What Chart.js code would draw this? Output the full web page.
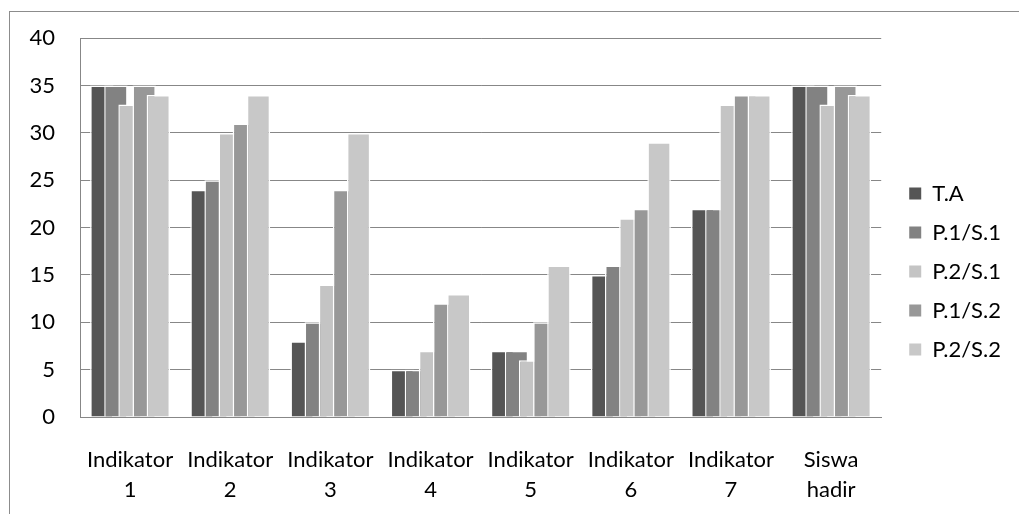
<!DOCTYPE html>
<html>
<head>
<meta charset="utf-8">
<title>Indikator</title>
<script src="https://cdn.jsdelivr.net/npm/chart.js@4.4.0/dist/chart.umd.min.js"></script>
<style>
  html, body { margin: 0; padding: 0; background: #ffffff; overflow: hidden; }
  #wrap { position: relative; width: 1019px; height: 514px; overflow: hidden; }
  #frame { position: absolute; left: 9px; top: 11px; width: 1100px; height: 600px;
           border: 1px solid #8c8c8c; box-sizing: border-box; }
  #chart { position: absolute; left: 0; top: 0; }
</style>
</head>
<body>
<div id="wrap">
  <div id="frame"></div>
  <canvas id="chart" width="1019" height="514"></canvas>
</div>
<script>
// Categories (two-line labels) and series
const categories = [
  ['Indikator', '1'], ['Indikator', '2'], ['Indikator', '3'], ['Indikator', '4'],
  ['Indikator', '5'], ['Indikator', '6'], ['Indikator', '7'], ['Siswa', 'hadir']
];
const seriesNames = ['T.A', 'P.1/S.1', 'P.2/S.1', 'P.1/S.2', 'P.2/S.2'];
const taValues   = [35, 24,  8,  5,  7, 15, 22, 35];
const p1s1Values = [35, 25, 10,  5,  7, 16, 22, 35];
const p2s1Values = [33, 30, 14,  7,  6, 21, 33, 33];
const p1s2Values = [35, 31, 24, 12, 10, 22, 34, 35];
const p2s2Values = [34, 34, 30, 13, 16, 29, 34, 34];
const yTicks = [0, 5, 10, 15, 20, 25, 30, 35, 40];

const seriesValues = [taValues, p1s1Values, p2s1Values, p1s2Values, p2s2Values];
const seriesColors = ['#555555', '#828282', '#c4c4c4', '#989898', '#c8c8c8'];

const FONT = 'Lato, "Open Sans", sans-serif';
const GRID = '#878787';
const TEXT = '#000000';

// Later series are painted over earlier ones, so bars overlap left-to-right.
const seriesOrder = {
  id: 'seriesOrder',
  beforeDatasetsDraw(chart) {
    const { ctx, chartArea } = chart;
    const metas = chart.getSortedVisibleDatasetMetas().slice().sort((a, b) => a.index - b.index);
    ctx.save();
    ctx.beginPath();
    ctx.rect(chartArea.left, chartArea.top - 2, chartArea.width, chartArea.height + 2);
    ctx.clip();
    metas.forEach(m => m.controller.draw());
    ctx.restore();
    return false;
  }
};

// Nudge the legend a little away from the plot
const legendShift = {
  id: 'legendShift',
  afterLayout(chart) {
    const lg = chart.legend;
    if (lg) { lg.left += 11; lg.right += 11; }
  }
};

new Chart(document.getElementById('chart'), {
  type: 'bar',
  data: {
    labels: categories,
    datasets: seriesNames.map((name, i) => ({
      label: name,
      data: seriesValues[i],
      backgroundColor: seriesColors[i],
      borderColor: '#ffffff',
      borderWidth: { top: 1.5, left: 1.5, right: 1.5, bottom: 0 },
      borderSkipped: 'start',
      categoryPercentage: 0.705,
      barPercentage: 1.66
    }))
  },
  options: {
    responsive: false,
    devicePixelRatio: 1,
    animation: false,
    layout: { padding: { top: 37, right: 19, bottom: 8, left: 0 } },
    scales: {
      x: {
        grid: { display: false, drawTicks: false },
        border: { display: true, color: GRID, width: 1 },
        ticks: {
          color: TEXT,
          padding: 28,
          maxRotation: 0,
          autoSkip: false,
          font: { family: FONT, size: 22, lineHeight: 1.36 }
        },
        afterFit(scale) { scale.height = 89; }
      },
      y: {
        min: 0,
        max: 40,
        afterBuildTicks(scale) { scale.ticks = yTicks.map(v => ({ value: v })); },
        grid: { color: GRID, lineWidth: 1, drawTicks: false },
        border: { display: true, color: GRID, width: 1 },
        ticks: {
          color: TEXT,
          padding: 25,
          font: { family: FONT, size: 22 }
        },
        afterFit(scale) { scale.width = 80; }
      }
    },
    plugins: {
      tooltip: { enabled: false },
      legend: {
        position: 'right',
        align: 'center',
        labels: {
          color: TEXT,
          boxWidth: 12,
          boxHeight: 12,
          padding: 17,
          font: { family: FONT, size: 22 },
          generateLabels(chart) {
            const items = Chart.defaults.plugins.legend.labels.generateLabels(chart);
            items.forEach(it => { it.lineWidth = 0; it.strokeStyle = it.fillStyle; });
            return items;
          }
        }
      }
    }
  },
  plugins: [seriesOrder, legendShift]
});
</script>
</body>
</html>
